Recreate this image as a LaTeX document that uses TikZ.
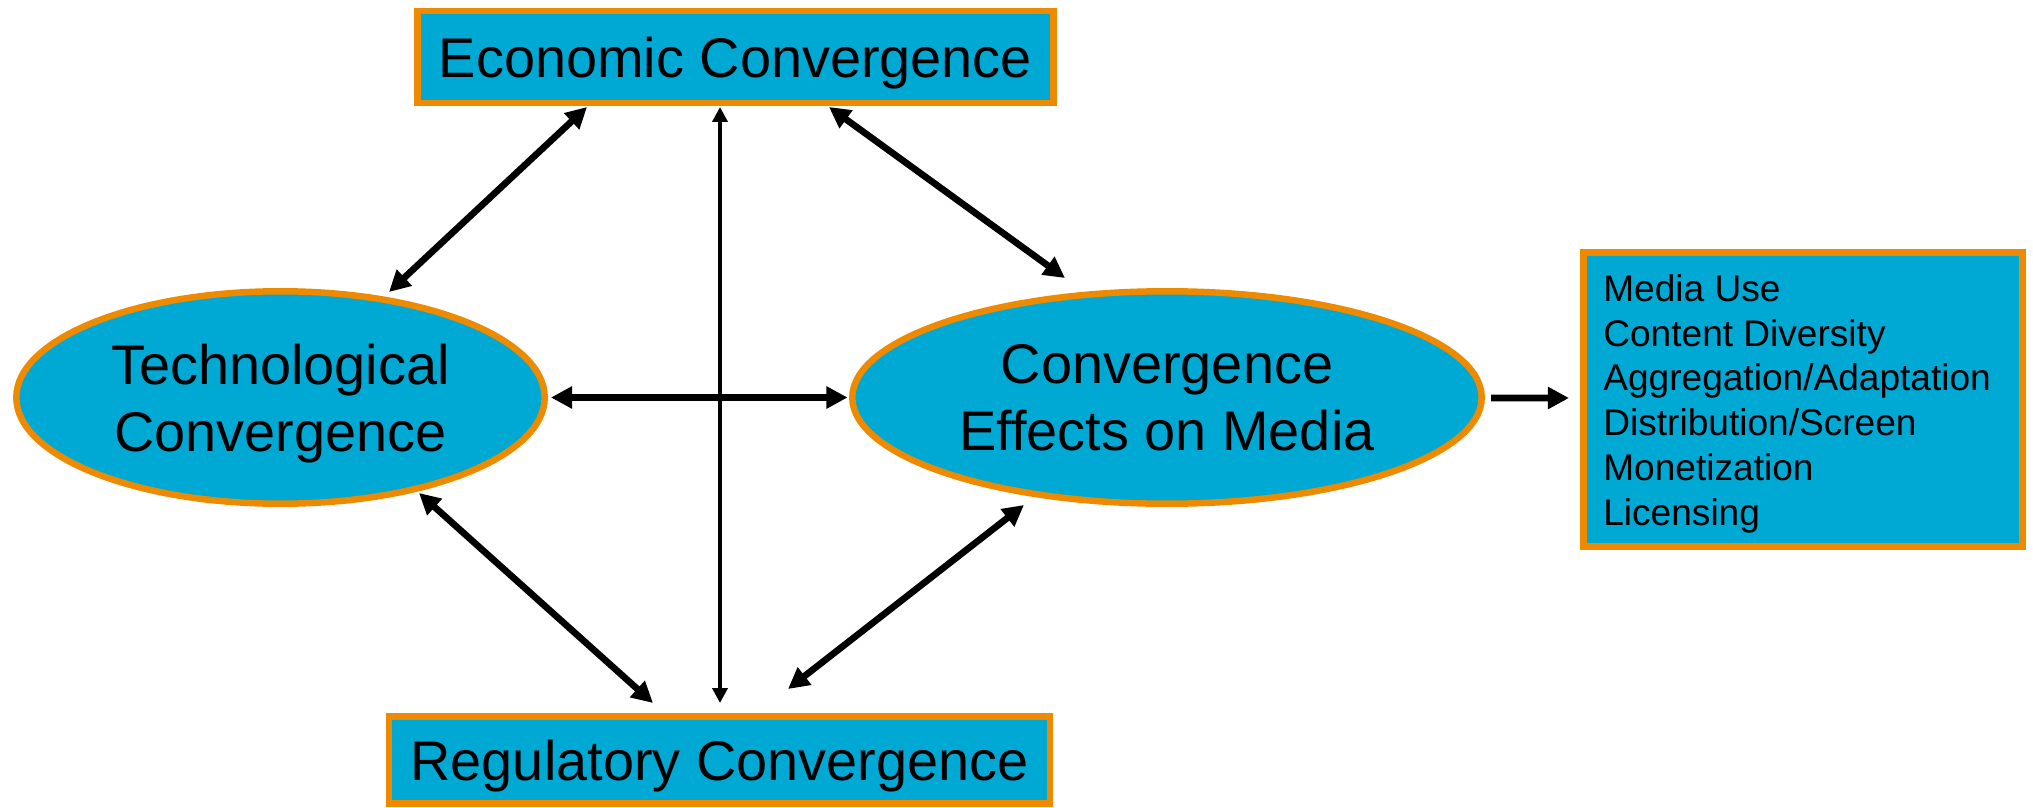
\documentclass[tikz,border=0pt]{standalone}
\usepackage{fontspec}
\setmainfont{Liberation Sans}
\usetikzlibrary{arrows.meta,calc,shapes.geometric}
\definecolor{boxfill}{RGB}{0,168,212}
\definecolor{boxline}{RGB}{238,138,0}
\begin{document}
\begin{tikzpicture}[x=0.02cm,y=-0.02cm,
  rectbox/.style={draw=boxline, fill=boxfill, line width=0.13cm, inner sep=0pt,
    text depth=0pt, font=\fontsize{31.8pt}{38.1pt}\selectfont},
  ellbox/.style={ellipse, draw=boxline, fill=boxfill, line width=0.13cm, inner sep=0pt,
    text depth=0pt, align=center, font=\fontsize{31.8pt}{38.1pt}\selectfont},
  biarrow/.style={line width=3.8pt, {Triangle[length=12pt,width=12pt]}-{Triangle[length=12pt,width=12pt]}},
  onearrow/.style={line width=3.8pt, -{Triangle[length=12pt,width=12pt]}},
  thinbi/.style={line width=2.2pt, {Triangle[length=8.5pt,width=8.5pt]}-{Triangle[length=8.5pt,width=8.5pt]}}
]
\useasboundingbox (0,0) rectangle (2033,808);

% nodes
\node[rectbox, minimum width=12.73cm, minimum height=1.84cm] (econ) at (735.5,57) {Economic Convergence};
\node[rectbox, minimum width=13.23cm, minimum height=1.75cm] (reg) at (719.5,760) {Regulatory Convergence};
\node[ellbox, minimum width=10.57cm, minimum height=4.25cm] (tech) at (280.5,397.5) {Technological\\Convergence};
\node[ellbox, minimum width=12.59cm, minimum height=4.25cm] (conv) at (1167,397.5) {Convergence\\Effects on Media};
\node[rectbox, minimum width=8.79cm, minimum height=5.89cm] (media) at (1803,399.5) {};
\node[anchor=north west, inner sep=0pt, align=left,
  font=\fontsize{21.1pt}{25.5pt}\selectfont] (mediatxt) at (1603,274)
  {Media Use\\Content Diversity\\Aggregation/Adaptation\\Distribution/Screen\\Monetization\\Licensing};

% connectors
\draw[biarrow] ($(tech)+(108.5,-105.5)$) -- ($(econ)+(-148.5,50)$);
\draw[thinbi] ($(econ)+(-15.5,50)$) -- ($(reg)+(0.5,-57)$);
\draw[biarrow] ($(econ)+(93.5,50)$) -- ($(conv)+(-102,-119.5)$);
\draw[biarrow, shorten <=0.06cm, shorten >=0.03cm] (tech.east) -- (conv.west);
\draw[biarrow] ($(tech)+(138.5,95.5)$) -- ($(reg)+(-66.5,-57)$);
\draw[biarrow] ($(conv)+(-143,107.5)$) -- ($(reg)+(68.5,-71)$);
\draw[onearrow] ($(conv)+(324,0.5)$) -- ($(media)+(-234,-1.5)$);
\end{tikzpicture}
\end{document}
